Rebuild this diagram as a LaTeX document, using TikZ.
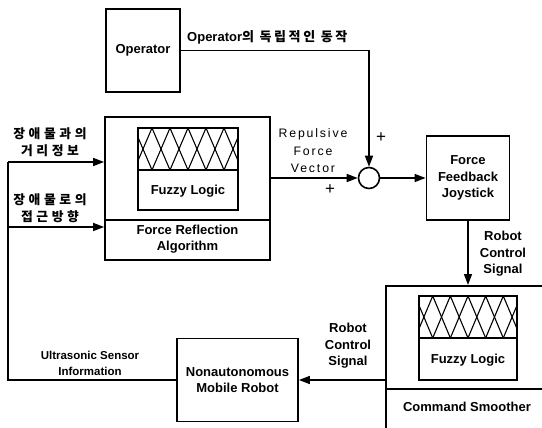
\documentclass[tikz,border=0pt]{standalone}
\usepackage{fontspec}
\setmainfont{Liberation Sans}
\newfontfamily\kr{Noto Sans CJK KR}[LetterSpace=20]
\newfontfamily\krwide{Noto Sans CJK KR}[LetterSpace=28]
\newfontfamily\spaced{Liberation Sans}[LetterSpace=15]
\usetikzlibrary{arrows.meta,calc}

% overlapping triangular membership functions inside a rectangle
% #1,#2 = top-left corner, #3 = width, #4 = height
\newcommand\fuzzyset[4]{%
  \begin{scope}
    \clip (#1,#2) rectangle ++(#3,#4);
    \foreach \k in {-1,...,5}{
      \pgfmathsetmacro\cx{#1+0.14*#3+0.18*#3*\k}
      \pgfmathsetmacro\hw{0.18*#3}
      \draw[line width=1.1pt] (\cx-\hw,#2+#4) -- (\cx,#2) -- (\cx+\hw,#2+#4);
    }
  \end{scope}}

\begin{document}
\begin{tikzpicture}[x=1pt,y=-1pt,
  box/.style={draw, line width=1.8pt, inner sep=0pt, align=center,
    font=\fontsize{13}{16.5}\selectfont\bfseries},
  wire/.style={line width=1.6pt},
  conn/.style={line width=1.6pt, -{Triangle[length=11pt,width=8pt]}},
  lab/.style={inner sep=0pt, align=center, font=\fontsize{13}{16.5}\selectfont\bfseries},
  smalllab/.style={inner sep=0pt, align=center, font=\fontsize{11.5}{16}\selectfont\bfseries},
  veclab/.style={inner sep=0pt, align=center, font=\spaced\fontsize{12.3}{17.5}\selectfont},
  krlab/.style={inner sep=0pt, align=center, font=\krwide\bfseries\fontsize{12.8}{17}\selectfont},
  sign/.style={inner sep=0pt, font=\fontsize{17}{17}\selectfont}]
\clip (0,0) rectangle (542,428);

% blocks
\node[box, minimum width=74pt, minimum height=83pt] (op) at (143,50.5) {Operator};
\node[box, minimum width=165pt, minimum height=143pt] (fra) at (187.5,188.5) {};
\draw[line width=1.8pt] (105,220) -- (270,220);
\node[lab] (fratext) at (187.5,239) {Force Reflection\\Algorithm};
\node[box, minimum width=100pt, minimum height=82pt] (fzA) at (188,169) {};
\fuzzyset{138}{128}{100}{42}
\draw[line width=1.8pt] (138,170) -- (238,170);
\node[lab] (fzAtext) at (188,191) {Fuzzy Logic};

\node[circle, draw, line width=1.6pt, minimum size=21pt, inner sep=0pt] (sum) at (369,178) {};
\node[box, minimum width=83pt, minimum height=84pt] (joy) at (468,178) {Force\\Feedback\\Joystick};

\node[box, minimum width=200pt, minimum height=200pt, anchor=north west] (cs) at (385,285) {};
\draw[line width=1.8pt] (385,389) -- (542,389);
\node[lab] (cstext) at (467,407) {Command Smoother};
\node[box, minimum width=98pt, minimum height=84pt] (fzB) at (468,338) {};
\fuzzyset{419}{296}{98}{42}
\draw[line width=1.8pt] (419,338) -- (517,338);
\node[lab] (fzBtext) at (468,360) {Fuzzy Logic};

\node[box, minimum width=121pt, minimum height=83pt] (robot) at (237.5,380) {Nonautonomous\\Mobile Robot};

% connectors
\draw[conn] (op.east) -| (sum.north);
\draw[conn] (sum.west -| fra.east) -- (sum.west);
\draw[conn] (sum.east) -- (joy.west);
\draw[conn] (joy.south) -- (joy.south |- cs.north);
\draw[conn] (robot.east -| cs.west) -- (robot.east);
\coordinate (tapA) at (8,162);
\coordinate (tapB) at (8,227);
\draw[wire] (robot.west) -| (tapA);
\draw[conn] (tapA) -- (tapA -| fra.west);
\draw[conn] (tapB) -- (tapB -| fra.west);

% labels
\node[lab, anchor=west] (oplab) at (187,37) {Operator{\kr 의 독립적인 동작}};
\node[sign] (plusA) at (381,138) {+};
\node[sign] (plusB) at (330,190) {+};
\node[veclab] (veclabel) at (313,151) {Repulsive\\Force\\Vector};
\node[lab] (rcsA) at (503,254) {Robot\\Control\\Signal};
\node[lab] (rcsB) at (348,346) {Robot\\Control\\Signal};
\node[smalllab] (uslab) at (90,363) {Ultrasonic Sensor\\Information};
\node[krlab] (krA) at (50,142.5) {장애물과의\\거리정보};
\node[krlab] (krB) at (50,208.5) {장애물로의\\접근방향};
\end{tikzpicture}
\end{document}
